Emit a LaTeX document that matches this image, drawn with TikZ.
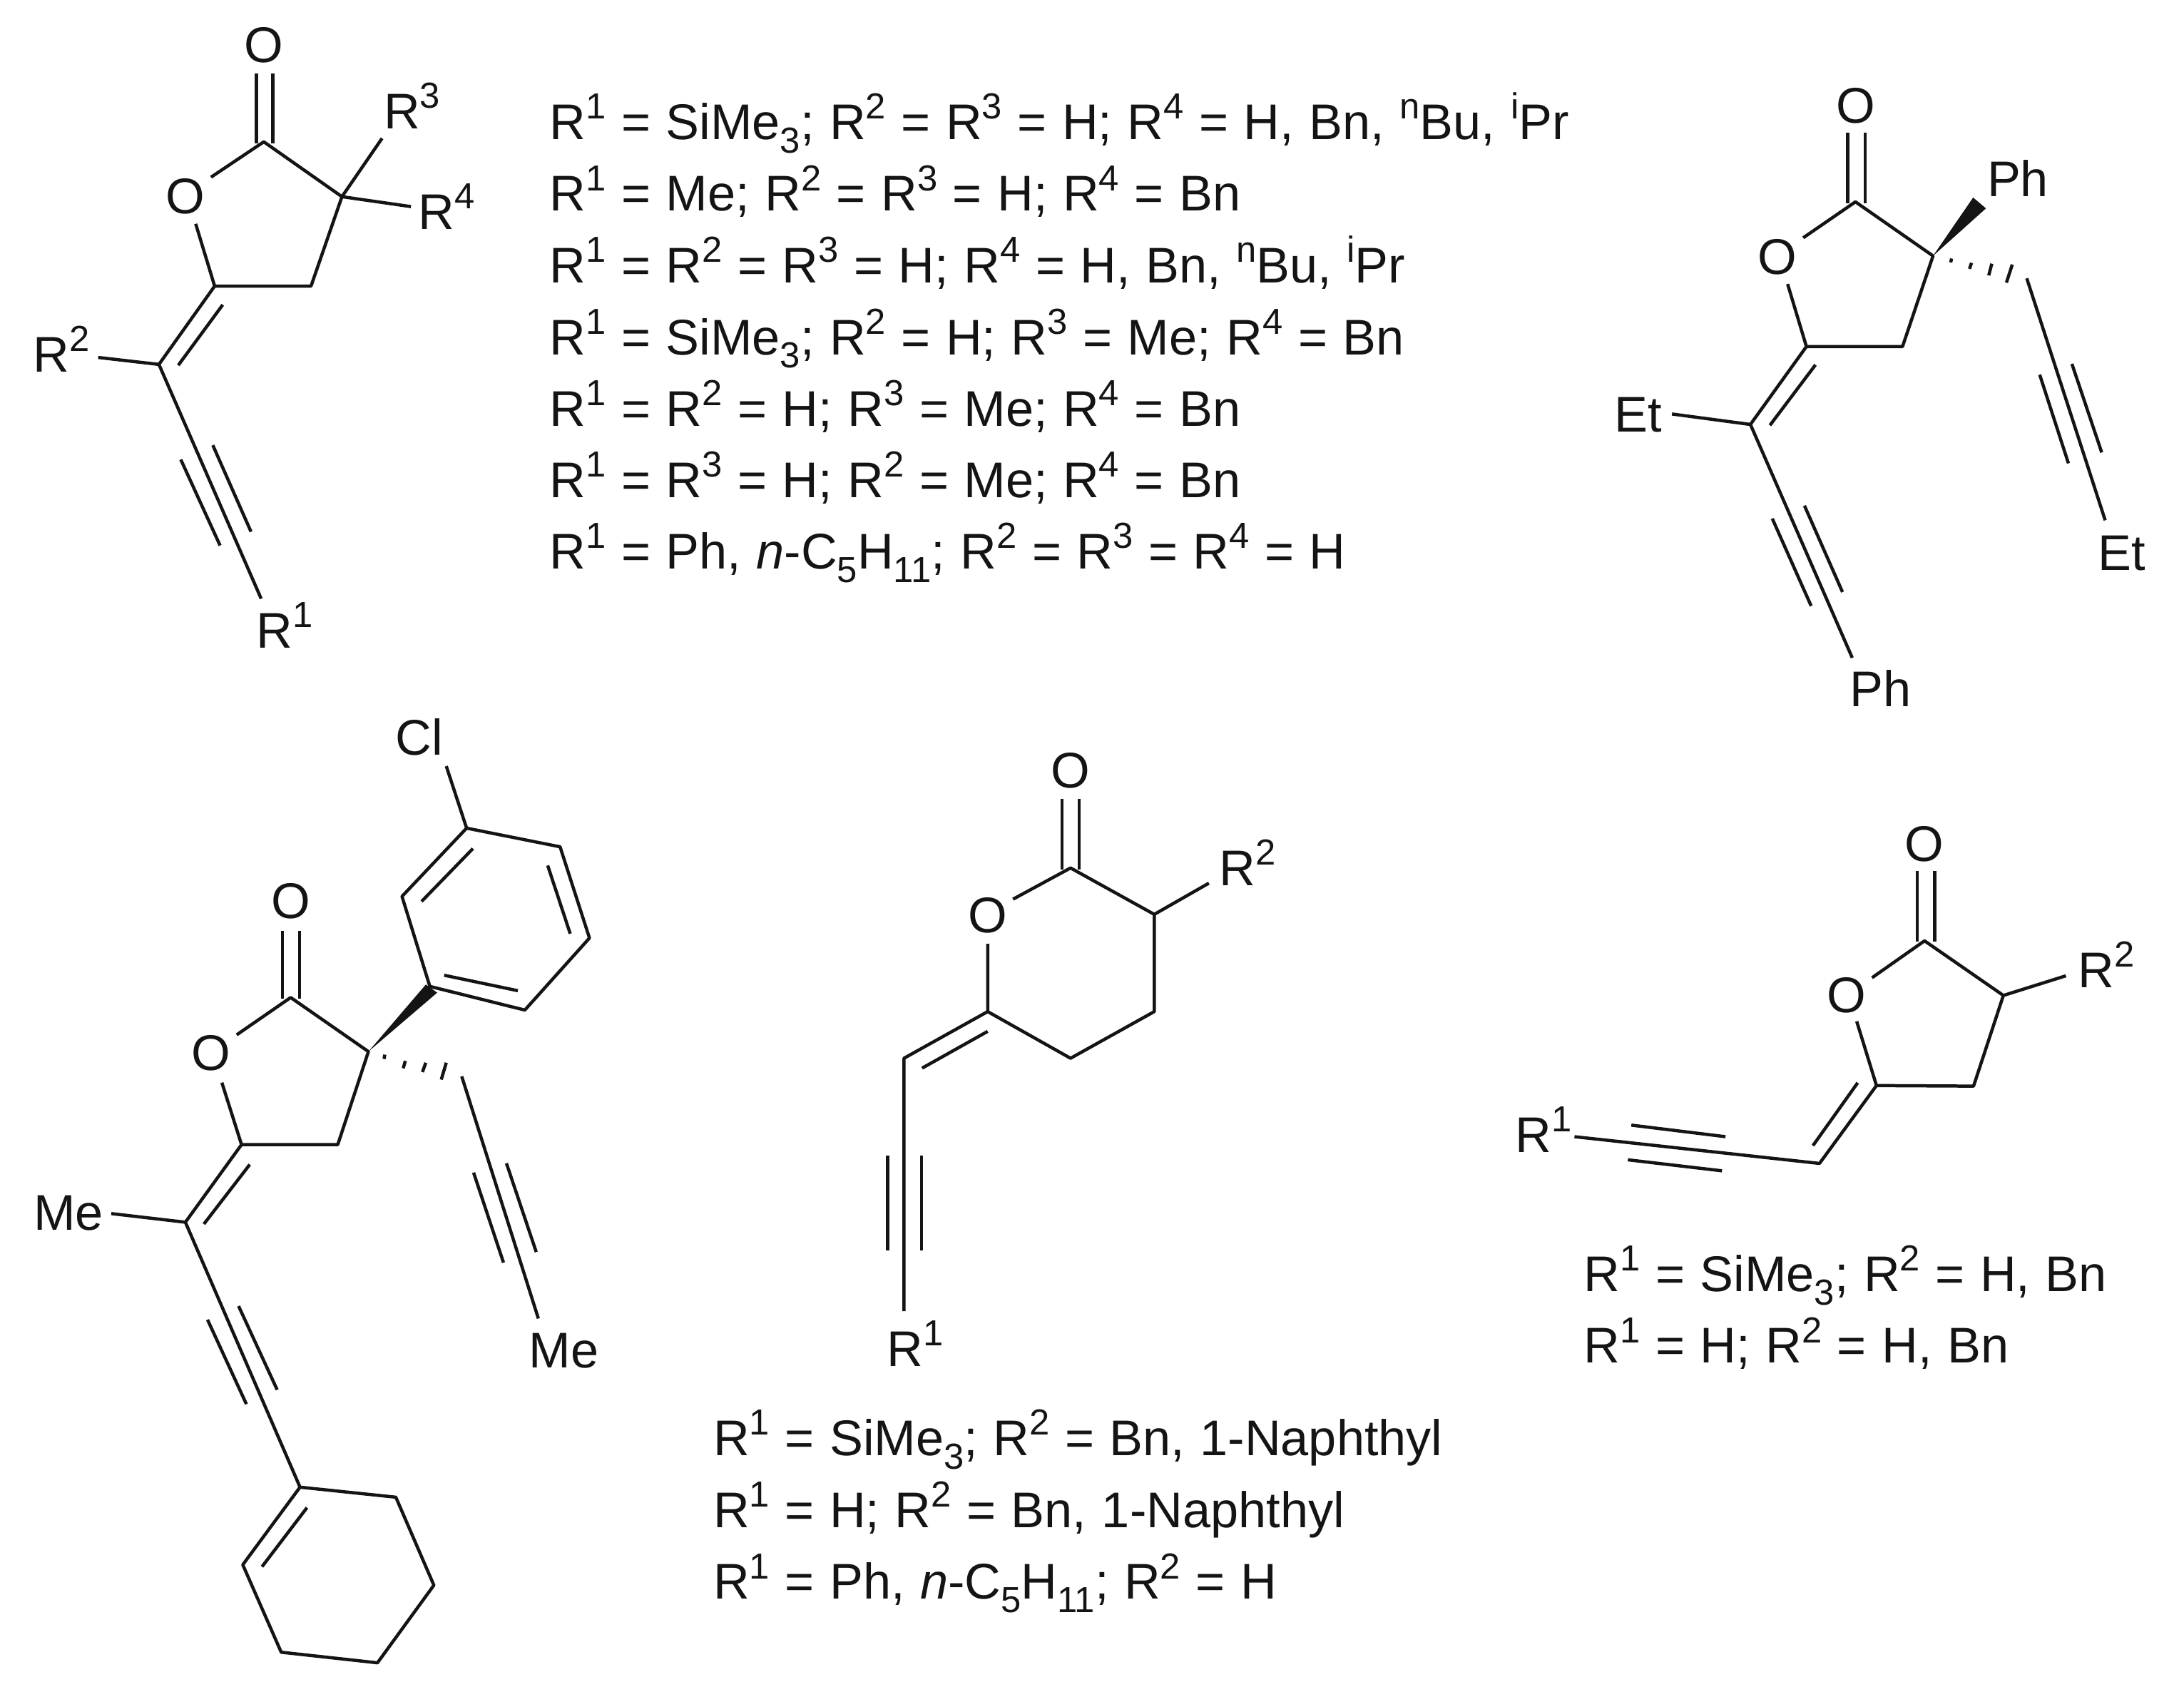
\documentclass[tikz,border=0pt]{standalone}
\usepackage{fontspec}
\setmainfont{Liberation Sans}
\newcommand{\hi}[1]{\raisebox{0.41em}{\fontsize{13}{14}\selectfont #1}}
\newcommand{\lo}[1]{\raisebox{-0.27em}{\fontsize{13}{14}\selectfont #1}}
\newcommand{\listfont}{\fontsize{18}{20}\selectfont\spaceskip 5.5pt\relax}
\tikzset{
	atomtxt/.style={anchor=base west,inner sep=0pt,yshift=-0.5pt,font=\fontsize{18}{20}\selectfont},
	atomo/.style={anchor=center,inner sep=0pt,font=\fontsize{18}{20}\selectfont},
	listtxt/.style={atomtxt,font=\listfont}
}
\begin{document}
\begin{tikzpicture}[line width = 1.15pt, line join=round,x=0.5pt,y=-0.5pt,color=black!92]
	\useasboundingbox (0,0) rectangle (1568,1211);
	% Liste oben
	\node[listtxt] (la) at (393.5,99) {R\hi{1} = SiMe\lo{3}; R\hi{2} = R\hi{3} = H; R\hi{4} = H, Bn, \hi{n}Bu, \hi{i}Pr};
	\node[listtxt] (lb) at (393.5,150.5) {R\hi{1} = Me; R\hi{2} = R\hi{3} = H; R\hi{4} = Bn};
	\node[listtxt] (lc) at (393.5,202) {R\hi{1} = R\hi{2} = R\hi{3} = H; R\hi{4} = H, Bn, \hi{n}Bu, \hi{i}Pr};
	\node[listtxt] (ld) at (393.5,253.5) {R\hi{1} = SiMe\lo{3}; R\hi{2} = H; R\hi{3} = Me; R\hi{4} = Bn};
	\node[listtxt] (le) at (393.5,305) {R\hi{1} = R\hi{2} = H; R\hi{3} = Me; R\hi{4} = Bn};
	\node[listtxt] (lf) at (393.5,356) {R\hi{1} = R\hi{3} = H; R\hi{2} = Me; R\hi{4} = Bn};
	\node[listtxt] (lg) at (393.5,407.5) {R\hi{1} = Ph, \textit{n}-C\lo{5}H\lo{11}; R\hi{2} = R\hi{3} = R\hi{4} = H};
	% Liste unten Mitte
	\node[listtxt] (lh) at (511,1044) {R\hi{1} = SiMe\lo{3}; R\hi{2} = Bn, 1-Naphthyl};
	\node[listtxt] (li) at (511,1095.5) {R\hi{1} = H; R\hi{2} = Bn, 1-Naphthyl};
	\node[listtxt] (lj) at (511,1147) {R\hi{1} = Ph, \textit{n}-C\lo{5}H\lo{11}; R\hi{2} = H};
	% Liste unten rechts
	\node[listtxt] (lk) at (1136,926) {R\hi{1} = SiMe\lo{3}; R\hi{2} = H, Bn};
	\node[listtxt] (ll) at (1136,977.5) {R\hi{1} = H; R\hi{2} = H, Bn};

	% Lacton oben links
	\coordinate (a1) at (189.4,101.8);
	\coordinate (a2) at (245.5,141.2);
	\coordinate (a3) at (223.3,205.4);
	\coordinate (a4) at (154.1,205.4);
	\coordinate (a5) at (114.1,261.6);
	\coordinate (a6) at (187.5,429.8);
	\node[atomo] (aO) at (189.4,32.6) {O};
	\node[atomo] (aOr) at (133.2,141.2) {O};
	\node[atomtxt] (aR1) at (183,464) {R\hi{1}};
	\node[atomtxt] (aR2) at (22.8,266) {R\hi{2}};
	\node[atomtxt] (aR3) at (274.4,91.5) {R\hi{3}};
	\node[atomtxt] (aR4) at (299.2,163.5) {R\hi{4}};
	\draw (151.5,127.2) -- (a1) -- (a2) -- (a3) -- (a4) -- (140.5,160.7);
	\draw (a4) -- (a5) -- (a6);
	\draw (184.2,52.8) -- (184.2,103);
	\draw (195.9,52.8) -- (195.9,103);
	\draw (159.9,218.8) -- (128,262.2);
	\draw (a5) -- (70.5,256.6);
	\draw (152.8,319.6) -- (180.2,381.7);
	\draw (129.8,329.9) -- (158,391.6);
	\draw (a2) -- (274.3,99.3);
	\draw (a2) -- (295,148.3);

	% Lacton oben rechts
	\coordinate (b1) at (1332.1,144.9);
	\coordinate (b2) at (1387.8,183.7);
	\coordinate (b3) at (1365.9,248.8);
	\coordinate (b4) at (1296.9,248.8);
	\coordinate (b5) at (1256.7,304.7);
	\coordinate (b6) at (1329.8,472.2);
	\coordinate (b7) at (1455.1,199.8);
	\coordinate (b8) at (1511.4,373.5);
	\node[atomo] (bO) at (1332.1,75.7) {O};
	\node[atomo] (bOr) at (1275.8,184.3) {O};
	\node[atomtxt] (bEt) at (1158,309.3) {Et};
	\node[atomtxt] (bEr) at (1505,408.6) {Et};
	\node[atomtxt] (bPh) at (1327,506.3) {Ph};
	\node[atomtxt] (bPt) at (1425.5,140.3) {Ph};
	\draw (1294.6,170.7) -- (b1) -- (b2) -- (b3) -- (b4) -- (1283.4,203.9);
	\draw (b4) -- (b5) -- (b6);
	\draw (1326.5,95.3) -- (1326.5,146);
	\draw (1339.1,95.3) -- (1339.1,146);
	\draw (1303.4,261.9) -- (1270.7,305.3);
	\draw (b5) -- (1200.4,297.2);
	\draw (1295.5,363) -- (1322.8,425);
	\draw (1272.4,372.3) -- (1300.3,435);
	\fill (b2) -- (1416.6,141.8) -- (1425.8,149.6) -- cycle;
	\draw (1401.1,185.6) -- (1400.5,188.4);
	\draw (1415.4,188.7) -- (1414,193);
	\draw (1430,189.3) -- (1427.8,197.7);
	\draw (1444.7,189.9) -- (1440.5,202.9);
	\draw (b7) -- (b8);
	\draw (1487.5,261.2) -- (1508.9,324.8);
	\draw (1464.4,269) -- (1485,332.6);

	% Lacton unten links
	\coordinate (c1) at (208.7,716.1);
	\coordinate (c2) at (264.5,754.9);
	\coordinate (c3) at (242.5,821.7);
	\coordinate (c4) at (173.4,821.7);
	\coordinate (c5) at (133.1,877.4);
	\coordinate (c6) at (215.4,1067.6);
	\coordinate (c7) at (331.5,772.7);
	\coordinate (c8) at (386.5,946.5);
	% Aromat
	\coordinate (p1) at (335,594.5);
	\coordinate (p2) at (402.1,607.9);
	\coordinate (p3) at (423.2,673.4);
	\coordinate (p4) at (376.8,725.1);
	\coordinate (p5) at (308.6,708.1);
	\coordinate (p6) at (288.6,643.5);
	% Cyclohexen
	\coordinate (h2) at (284.2,1074.8);
	\coordinate (h3) at (311.5,1138);
	\coordinate (h4) at (271,1193.7);
	\coordinate (h5) at (201.9,1186.1);
	\coordinate (h6) at (174.3,1123.3);
	\node[atomo] (cO) at (208.7,647.1) {O};
	\node[atomo] (cOr) at (151.4,756.2) {O};
	\node[atomtxt] (cCl) at (283,541) {Cl};
	\node[atomtxt] (cMe) at (23,881.9) {Me};
	\node[atomtxt] (cMr) at (378.6,980.8) {Me};
	\draw (169.9,742.9) -- (c1) -- (c2) -- (c3) -- (c4) -- (159.3,777.2);
	\draw (c4) -- (c5) -- (c6);
	\draw (202.8,668) -- (202.8,717);
	\draw (215.1,668) -- (215.1,717);
	\draw (179.3,836) -- (146.4,878.7);
	\draw (c5) -- (79.9,871.2);
	\draw (171.3,937.6) -- (199,997.7);
	\draw (149,947.4) -- (176.9,1008);
	\draw (p1) -- (p2) -- (p3) -- (p4) -- (p5) -- (p6) -- cycle;
	\draw (339.5,609.2) -- (302.7,647.1);
	\draw (393.2,621.3) -- (409.4,670.3);
	\draw (371.8,711.2) -- (318.9,700.1);
	\draw (p1) -- (320.4,550);
	\fill (c2) -- (305.7,706.8) -- (313.9,712.6) -- cycle;
	\draw (276.3,757.1) -- (275.7,760.2);
	\draw (291,761.6) -- (289.5,766.9);
	\draw (305.7,762.9) -- (303.3,769.6);
	\draw (320.4,762.9) -- (316.8,775);
	\draw (c7) -- (c8);
	\draw (363.6,835.1) -- (385,898.8);
	\draw (340,841.8) -- (361.5,906.4);
	\draw (c6) -- (h2) -- (h3) -- (h4) -- (h5) -- (h6) -- cycle;
	\draw (220.4,1082.3) -- (188.1,1124.7);

	% Lacton Mitte (Sechsring)
	\coordinate (d1) at (768.6,623.1);
	\coordinate (d2) at (828.7,656.4);
	\coordinate (d3) at (828.7,726.2);
	\coordinate (d4) at (768.6,759.7);
	\coordinate (d5) at (709.1,726.2);
	\coordinate (d6) at (649,759.7);
	\node[atomo] (dO) at (768.6,553.3) {O};
	\node[atomo] (dOr) at (709.1,657.3) {O};
	\node[atomtxt] (dR1) at (635.5,980) {R\hi{1}};
	\node[atomtxt] (dR2) at (874.2,634.9) {R\hi{2}};
	\draw (727.3,645.5) -- (d1) -- (d2) -- (d3) -- (d4) -- (d5) -- (709.1,677.5);
	\draw (d5) -- (d6) -- (649,941.2);
	\draw (762.6,573.5) -- (762.6,624);
	\draw (774.9,573.5) -- (774.9,624);
	\draw (709.1,740.4) -- (662,766.8);
	\draw (d2) -- (867.9,634);
	\draw (637.2,829.5) -- (637.2,897.8);
	\draw (661.5,829.5) -- (661.5,897.8);

	% Lacton rechts unten
	\coordinate (e1) at (1381.7,675.4);
	\coordinate (e2) at (1438.3,714.6);
	\coordinate (e3) at (1416.9,779.7);
	\coordinate (e4) at (1347.2,779.3);
	\coordinate (e5) at (1306.3,835.2);
	\node[atomo] (eO) at (1381.7,605.8) {O};
	\node[atomo] (eOr) at (1325.8,714.6) {O};
	\node[atomtxt] (eR1) at (1087,826.3) {R\hi{1}};
	\node[atomtxt] (eR2) at (1490.8,707.8) {R\hi{2}};
	\draw (1344,701.9) -- (e1) -- (e2) -- (e3) -- (e4) -- (1333,733.2);
	\draw (e4) -- (e5) -- (1130.4,816);
	\draw (1376.4,625.4) -- (1376.4,676);
	\draw (1389,625.4) -- (1389,676);
	\draw (1333.7,777.3) -- (1301.6,822.4);
	\draw (e2) -- (1483.2,700.5);
	\draw (1171.2,807.7) -- (1238.8,816);
	\draw (1168.7,832.6) -- (1236.3,840.5);
\end{tikzpicture}
\end{document}
